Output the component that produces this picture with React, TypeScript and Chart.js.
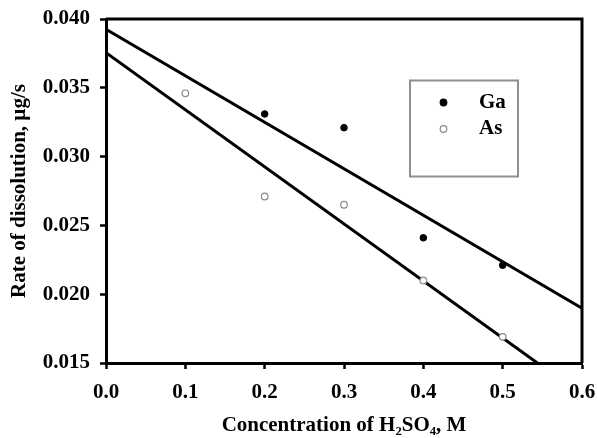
import React, { useEffect, useRef } from "react";
import { Chart, registerables } from "chart.js";

Chart.register(...registerables);

// ---- data ----
const gaX = [0.2, 0.3, 0.4, 0.5];
const gaY = [0.0331, 0.0321, 0.0241, 0.0221];
const asX = [0.1, 0.2, 0.3, 0.4, 0.5];
const asY = [0.0346, 0.0271, 0.0265, 0.0210, 0.0169];
const fitX = [0, 0.6];
const gaFitY = [0.03925, 0.01898];
const asFitY = [0.03755, 0.01267];
const seriesLabels = ["Ga", "As"];
const xTitle = "Concentration of H\u2082SO\u2084, M";
const yTitle = "Rate of dissolution, \u00b5g/s";

const FONT = "'Liberation Serif', 'Times New Roman', serif";
const FS = 21;

const pts = (xs: number[], ys: number[]) => xs.map((x, i) => ({ x, y: ys[i] }));

const framePlugin = {
  id: "frame",
  afterDatasetsDraw(chart: any) {
    const { ctx, chartArea: a } = chart;
    ctx.save();
    ctx.strokeStyle = "#000";
    ctx.lineWidth = 3;
    ctx.beginPath();
    ctx.moveTo(a.left, a.top);
    ctx.lineTo(a.right, a.top);
    ctx.lineTo(a.right, a.bottom);
    ctx.stroke();
    ctx.restore();
  },
};

const legendPlugin = {
  id: "boxLegend",
  afterDraw(chart: any) {
    const { ctx } = chart;
    ctx.save();
    ctx.strokeStyle = "#8f8f8f";
    ctx.lineWidth = 2;
    ctx.strokeRect(410, 80.5, 108, 96);
    const rows = [
      { y: 102.5, fill: "#000", stroke: "#000" },
      { y: 129, fill: "#fff", stroke: "#8a8a8a" },
    ];
    rows.forEach((r, i) => {
      ctx.beginPath();
      ctx.arc(443.5, r.y, 3.3, 0, Math.PI * 2);
      ctx.fillStyle = r.fill;
      ctx.fill();
      ctx.lineWidth = 1.2;
      ctx.strokeStyle = r.stroke;
      ctx.stroke();
      ctx.fillStyle = "#000";
      ctx.font = `bold ${FS}px ${FONT}`;
      ctx.textBaseline = "middle";
      ctx.textAlign = "left";
      ctx.fillText(seriesLabels[i], 479, r.y);
    });
    ctx.restore();
  },
};

export default function App() {
  const ref = useRef<HTMLCanvasElement | null>(null);
  useEffect(() => {
    if (!ref.current) return;
    const chart = new Chart(ref.current, {
      type: "scatter",
      data: {
        datasets: [
          {
            label: seriesLabels[1],
            data: pts(asX, asY),
            pointRadius: 3.3,
            pointBackgroundColor: "#fff",
            pointBorderColor: "#8a8a8a",
            pointBorderWidth: 1.2,
          },
          {
            label: seriesLabels[0],
            data: pts(gaX, gaY),
            pointRadius: 3.3,
            pointBackgroundColor: "#000",
            pointBorderColor: "#000",
            pointBorderWidth: 1,
          },
          {
            label: "Ga fit",
            data: pts(fitX, gaFitY),
            showLine: true,
            borderColor: "#000",
            borderWidth: 3,
            pointRadius: 0,
            clip: 0,
          } as any,
          {
            label: "As fit",
            data: pts(fitX, asFitY),
            showLine: true,
            borderColor: "#000",
            borderWidth: 3,
            pointRadius: 0,
            clip: 0,
          } as any,
        ],
      },
      options: {
        animation: false,
        responsive: true,
        maintainAspectRatio: false,
        layout: { padding: { top: 19, right: 15, left: 0, bottom: 0 } },
        plugins: {
          legend: { display: false },
          tooltip: { enabled: false },
        },
        scales: {
          x: {
            type: "linear",
            min: 0,
            max: 0.6,
            afterFit: (s: any) => {
              s.height = 75;
              s.paddingLeft = 0;
              s.paddingRight = 0;
            },
            ticks: {
              stepSize: 0.1,
              color: "#000",
              padding: 11,
              font: { family: FONT, size: FS, weight: "bold" },
              callback: (v: any) => Number(v).toFixed(1),
            },
            grid: {
              drawOnChartArea: false,
              drawTicks: true,
              tickLength: 6,
              tickWidth: 2.5,
              tickColor: "#000",
              color: "#000",
            },
            border: { display: true, color: "#000", width: 3 },
            title: {
              display: true,
              text: xTitle,
              color: "#000",
              padding: { top: 0, bottom: 0 },
              font: { family: FONT, size: FS, weight: "bold" },
            },
          },
          y: {
            type: "linear",
            min: 0.015,
            max: 0.04,
            afterFit: (s: any) => {
              s.width = 106;
              s.paddingTop = 0;
              s.paddingBottom = 0;
            },
            ticks: {
              stepSize: 0.005,
              color: "#000",
              padding: 10,
              font: { family: FONT, size: FS, weight: "bold" },
              callback: (v: any) => Number(v).toFixed(3),
            },
            grid: {
              drawOnChartArea: false,
              drawTicks: true,
              tickLength: 6,
              tickWidth: 2.5,
              tickColor: "#000",
              color: "#000",
            },
            border: { display: true, color: "#000", width: 3 },
            title: {
              display: true,
              text: yTitle,
              color: "#000",
              padding: { top: 7, bottom: 0 },
              font: { family: FONT, size: FS, weight: "bold" },
            },
          },
        },
      },
      plugins: [framePlugin, legendPlugin],
    });
    return () => chart.destroy();
  }, []);
  return (
    <div style={{ position: "fixed", left: 0, top: 0, width: 597, height: 438, background: "#fff" }}>
      <canvas ref={ref} />
    </div>
  );
}
